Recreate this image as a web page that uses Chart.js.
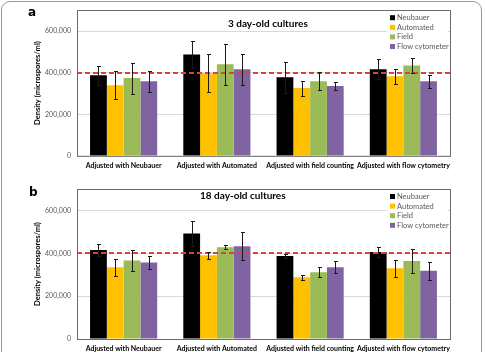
<!DOCTYPE html>
<html>
<head>
<meta charset="utf-8">
<script src="https://cdn.jsdelivr.net/npm/chart.js@4"></script>
<style>
  html, body { margin: 0; padding: 0; background: #fff; }
  body { width: 485px; height: 352px; overflow: hidden; position: relative; }
  #moldura { position: absolute; left: 1px; top: 1px; width: 479px; height: 380px; border: 1px solid #9a9a9a; border-radius: 9px; }
  canvas { position: absolute; left: 0; }
  #graficoA { top: 0; }
  #graficoB { top: 175px; }
</style>
</head>
<body>
<div id="moldura"></div>
<canvas id="graficoA" width="485" height="180"></canvas>
<canvas id="graficoB" width="485" height="185"></canvas>
<script>
// Categorias e séries
const categorias = ['Adjusted with Neubauer', 'Adjusted with Automated', 'Adjusted with field counting', 'Adjusted with flow cytometry'];
const series = ['Neubauer', 'Automated', 'Field', 'Flow cytometer'];
const ticksY = [0, 200000, 400000, 600000];
const linhaReferencia = 400000;

// Culturas de 3 dias
const neubauer3 = [388000, 487000, 378000, 416000];
const automated3 = [340000, 397000, 326000, 383000];
const field3 = [374000, 440000, 359000, 435000];
const flow3 = [359000, 416000, 336000, 359000];
const erroNeubauer3 = [46000, 66000, 75000, 48000];
const erroAutomated3 = [68000, 92000, 36000, 37000];
const erroField3 = [74000, 97000, 42000, 36000];
const erroFlow3 = [50000, 74000, 20000, 32000];

// Culturas de 18 dias
const neubauer18 = [415000, 492000, 387000, 406000];
const automated18 = [335000, 391000, 288000, 330000];
const field18 = [366000, 428000, 312000, 364000];
const flow18 = [357000, 433000, 335000, 318000];
const erroNeubauer18 = [27000, 57000, 9000, 25000];
const erroAutomated18 = [40000, 17000, 12000, 41000];
const erroField18 = [50000, 10000, 22000, 57000];
const erroFlow18 = [30000, 65000, 27000, 42000];

const cores = ['#000000', '#ffc000', '#9bbb59', '#8064a2'];

Chart.defaults.font.family = 'Lato';
Chart.defaults.color = '#595959';

// Plugin: linha tracejada, barras de erro, moldura, título e legenda
const pluginPainel = {
    id: 'painel',
    afterDatasetsDraw(chart, args, opts) {
        const { ctx, chartArea: area, scales: { y } } = chart;
        ctx.save();

        // linha de referência
        const yRef = Math.round(y.getPixelForValue(linhaReferencia));
        ctx.strokeStyle = '#d8433f';
        ctx.lineWidth = 2;
        ctx.setLineDash([5, 3]);
        ctx.beginPath();
        ctx.moveTo(area.left, yRef);
        ctx.lineTo(area.right, yRef);
        ctx.stroke();
        ctx.setLineDash([]);

        // barras de erro
        ctx.strokeStyle = '#1a1a1a';
        ctx.lineWidth = 1;
        chart.data.datasets.forEach((ds, i) => {
            chart.getDatasetMeta(i).data.forEach((barra, j) => {
                const v = ds.data[j], e = ds.erros[j];
                const x = Math.round(barra.x) + 0.5;
                const t = Math.round(y.getPixelForValue(v + e)) + 0.5;
                const b = Math.round(y.getPixelForValue(v - e)) + 0.5;
                ctx.beginPath();
                ctx.moveTo(x, t); ctx.lineTo(x, b);
                ctx.moveTo(x - 1.5, t); ctx.lineTo(x + 2.5, t);
                ctx.moveTo(x - 1.5, b); ctx.lineTo(x + 2.5, b);
                ctx.stroke();
            });
        });

        // moldura da área do gráfico
        ctx.strokeStyle = '#6b6b6b';
        ctx.strokeRect(Math.round(area.left) + 0.5, Math.round(area.top) + 0.5, area.right - area.left, area.bottom - area.top);

        // título
        ctx.fillStyle = '#000';
        ctx.font = 'bold 10px Lato';
        ctx.textBaseline = 'middle';
        ctx.textAlign = 'left';
        ctx.fillText(opts.titulo, opts.tituloX, area.top + opts.tituloY);

        // legenda
        ctx.fillStyle = '#fff';
        ctx.fillRect(387, area.top + 2, 61, 42);
        ctx.font = '7.5px Lato';
        chart.data.datasets.forEach((ds, i) => {
            const yl = area.top + 7.5 + i * 9.6;
            ctx.fillStyle = ds.backgroundColor;
            ctx.fillRect(390, yl - 2.5, 5, 5);
            ctx.fillStyle = '#595959';
            ctx.fillText(ds.label, 397, yl);
        });

        // letra do painel
        ctx.fillStyle = '#000';
        ctx.font = 'bold 12px "DejaVu Sans"';
        ctx.fillText(opts.letra, opts.letraX, opts.letraY);
        ctx.restore();
    }
};

function montarGrafico(id, valores, erros, painel, topo, alturaX, padX) {
    const ctx = document.getElementById(id).getContext('2d');
    return new Chart(ctx, {
        type: 'bar',
        data: {
            labels: categorias,
            datasets: series.map((nome, i) => ({
                label: nome,
                data: valores[i],
                erros: erros[i],
                backgroundColor: cores[i],
                categoryPercentage: 0.72,
                barPercentage: 1.0
            }))
        },
        options: {
            responsive: false,
            animation: false,
            layout: { padding: { left: 0, right: 35, top: topo, bottom: 0 } },
            scales: {
                x: {
                    grid: { display: false, drawTicks: false },
                    border: { display: false },
                    ticks: { color: '#000', font: { size: 7, weight: 'bold' }, padding: padX, maxRotation: 0, autoSkip: false },
                    afterFit: (s) => { s.height = alturaX; }
                },
                y: {
                    min: 0,
                    max: 700000,
                    afterBuildTicks: (s) => { s.ticks = ticksY.map(v => ({ value: v })); },
                    grid: { color: '#d9d9d9', drawTicks: false },
                    border: { display: false },
                    ticks: {
                        font: { size: 7 },
                        padding: 6,
                        callback: (v) => v.toLocaleString('en-US')
                    },
                    title: {
                        display: true,
                        text: 'Density (microspores/ml)',
                        color: '#000',
                        font: { size: 7.5, weight: 'bold' },
                        padding: { top: 33, bottom: 0 }
                    },
                    afterFit: (s) => { s.width = 77; }
                }
            },
            plugins: {
                legend: { display: false },
                tooltip: { enabled: false },
                painel: painel
            }
        },
        plugins: [pluginPainel]
    });
}

const graficoA = montarGrafico('graficoA',
    [neubauer3, automated3, field3, flow3],
    [erroNeubauer3, erroAutomated3, erroField3, erroFlow3],
    { titulo: '3 day-old cultures', tituloX: 228, tituloY: 14, letra: 'a', letraX: 28, letraY: 13 },
    8, 24, 6);

const graficoB = montarGrafico('graficoB',
    [neubauer18, automated18, field18, flow18],
    [erroNeubauer18, erroAutomated18, erroField18, erroFlow18],
    { titulo: '18 day-old cultures', tituloX: 200, tituloY: 7, letra: 'b', letraX: 29, letraY: 18 },
    14, 21, 6);
</script>
</body>
</html>
